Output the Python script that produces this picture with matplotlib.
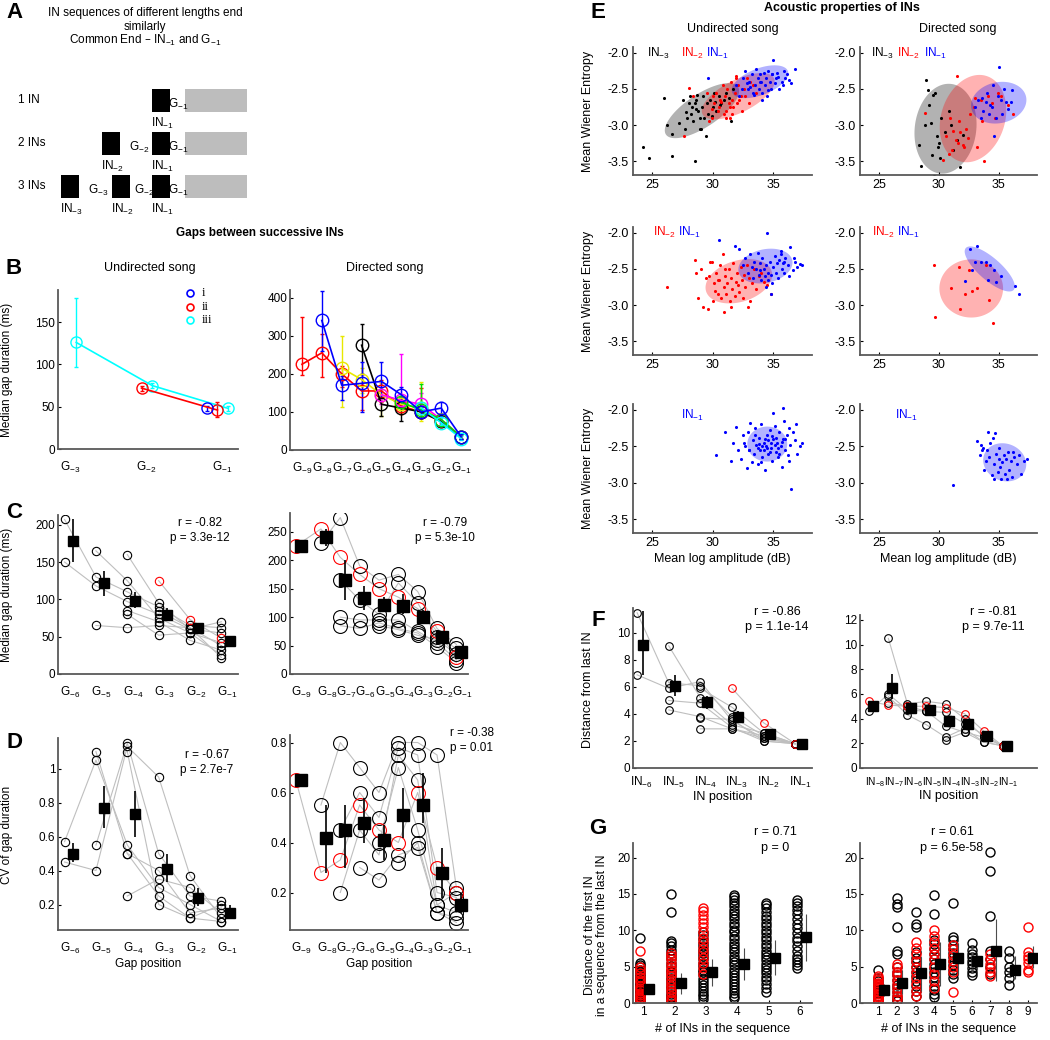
import numpy as np
import matplotlib.pyplot as plt
from matplotlib.patches import Rectangle

plt.rcParams['font.family'] = ['Liberation Sans', 'DejaVu Sans']
plt.rcParams['mathtext.default'] = 'regular'
nan = np.nan

# ---------------- data ----------------
# A: schematic, gaps between INs of each row (last gap first)
seq_labels = ['1 IN', '2 INs', '3 INs']
seq_gaps = [[], [32], [22, 33]]

# B: median gap duration (ms)
b_und_ticks = ['G$_{-3}$', 'G$_{-2}$', 'G$_{-1}$']
b_und_i = [nan, nan, 48]
b_und_i_lo = [nan, nan, 45]
b_und_i_hi = [nan, nan, 51]
b_und_ii = [nan, 72, 46]
b_und_ii_lo = [nan, 69, 38]
b_und_ii_hi = [nan, 75, 55]
b_und_iii = [126, 75, 48]
b_und_iii_lo = [97, 72, 45]
b_und_iii_hi = [178, 78, 51]

dir_ticks = ['G$_{-9}$', 'G$_{-8}$', 'G$_{-7}$', 'G$_{-6}$', 'G$_{-5}$', 'G$_{-4}$', 'G$_{-3}$', 'G$_{-2}$', 'G$_{-1}$']
b_dir_red = [225, 255, 200, 155, 155, 115, 100, 75, 35]
b_dir_red_lo = [197, 192, 165, 105, 125, 95, 85, 62, 28]
b_dir_red_hi = [348, 305, 220, 200, 185, 140, 162, 90, 42]
b_dir_blue = [nan, 340, 170, 175, 180, 145, 100, 110, 35]
b_dir_blue_lo = [nan, 260, 130, 100, 140, 115, 85, 90, 28]
b_dir_blue_hi = [nan, 418, 195, 230, 230, 165, 115, 125, 42]
b_dir_yellow = [nan, nan, 215, 185, 145, 120, 110, 80, 35]
b_dir_yellow_lo = [nan, nan, 112, 150, 90, 95, 75, 65, 28]
b_dir_yellow_hi = [nan, nan, 300, 215, 175, 140, 178, 95, 42]
b_dir_black = [nan, nan, nan, 275, 120, 110, 100, 75, 35]
b_dir_black_lo = [nan, nan, nan, 200, 90, 75, 85, 62, 28]
b_dir_black_hi = [nan, nan, nan, 330, 140, 130, 115, 88, 42]
b_dir_magenta = [nan, nan, nan, nan, 145, 130, 120, 80, 35]
b_dir_magenta_lo = [nan, nan, nan, nan, 120, 110, 100, 70, 28]
b_dir_magenta_hi = [nan, nan, nan, nan, 170, 252, 150, 95, 42]
b_dir_green = [nan, nan, nan, nan, nan, 125, 105, 80, 35]
b_dir_green_lo = [nan, nan, nan, nan, nan, 110, 90, 65, 28]
b_dir_green_hi = [nan, nan, nan, nan, nan, 140, 172, 95, 42]
b_dir_cyan = [nan, nan, nan, nan, nan, nan, 110, 72, 30]
b_dir_cyan_lo = [nan, nan, nan, nan, nan, nan, 100, 65, 25]
b_dir_cyan_hi = [nan, nan, nan, nan, nan, nan, 125, 85, 38]

# C: median gap duration per bird (undirected G-6..G-1, directed G-9..G-1)
und_ticks = ['G$_{-6}$', 'G$_{-5}$', 'G$_{-4}$', 'G$_{-3}$', 'G$_{-2}$', 'G$_{-1}$']
c_und_birds = [
    [207, 130, 110, 90, 65, 62],
    [150, 118, 97, 80, 60, 55],
    [nan, 165, 125, 75, 55, 42],
    [nan, 65, 62, 65, 62, 38],
    [nan, nan, 160, 95, 60, 70],
    [nan, nan, 85, 70, 45, 32],
    [nan, nan, 80, 52, 55, 25],
    [nan, nan, nan, 85, 62, 22],
]
c_und_red = [nan, nan, nan, 125, 73, 48]
c_und_mean = [178, 122, 98, 79, 61, 44]
c_und_lo = [150, 105, 88, 72, 55, 38]
c_und_hi = [208, 138, 110, 88, 68, 50]

c_dir_birds = [
    [nan, 230, 275, 190, 165, 175, 145, 80, 52],
    [nan, nan, 165, 130, 105, 160, 125, 65, 45],
    [nan, nan, 100, 95, 95, 95, 75, 55, 25],
    [nan, nan, 85, 80, 90, 80, 72, 48, 20],
    [nan, nan, nan, nan, 85, 78, 68, 60, 35],
]
c_dir_red = [225, 255, 205, 175, 150, 135, 115, 75, 30]
c_dir_mean = [225, 240, 165, 133, 122, 120, 100, 65, 38]
c_dir_lo = [225, 225, 130, 112, 110, 105, 90, 58, 32]
c_dir_hi = [225, 255, 200, 155, 135, 140, 112, 72, 45]

# D: CV of gap duration per bird
d_und_birds = [
    [0.57, 1.05, 0.55, 0.30, 0.20, 0.10],
    [0.45, 0.40, 1.13, 0.95, 0.37, 0.12],
    [nan, 1.10, 0.50, 0.40, 0.15, 0.18],
    [nan, 0.55, 1.15, 0.50, 0.25, 0.22],
    [nan, nan, 0.25, 0.35, 0.30, 0.15],
    [nan, nan, 1.10, 0.20, 0.12, 0.10],
    [nan, nan, 0.50, 0.25, 0.12, 0.20],
]
d_und_red = [nan] * 6
d_und_mean = [0.50, 0.77, 0.73, 0.41, 0.24, 0.15]
d_und_lo = [0.45, 0.65, 0.60, 0.33, 0.19, 0.12]
d_und_hi = [0.56, 0.90, 0.87, 0.50, 0.30, 0.20]

d_dir_birds = [
    [nan, 0.55, 0.80, 0.70, 0.60, 0.80, 0.80, 0.75, 0.22],
    [nan, nan, 0.45, 0.60, 0.50, 0.78, 0.75, 0.20, 0.18],
    [nan, nan, 0.20, 0.45, 0.35, 0.75, 0.65, 0.15, 0.12],
    [nan, nan, nan, 0.30, 0.25, 0.35, 0.38, 0.12, 0.08],
    [nan, nan, nan, nan, 0.40, 0.70, 0.45, 0.15, 0.20],
    [nan, nan, nan, nan, nan, 0.32, 0.40, 0.12, 0.10],
]
d_dir_red = [0.65, 0.28, 0.33, 0.55, 0.45, 0.40, 0.60, 0.30, 0.20]
d_dir_mean = [0.65, 0.42, 0.45, 0.48, 0.41, 0.51, 0.55, 0.28, 0.15]
d_dir_lo = [0.65, 0.28, 0.30, 0.40, 0.33, 0.42, 0.48, 0.18, 0.12]
d_dir_hi = [0.65, 0.55, 0.55, 0.58, 0.47, 0.62, 0.68, 0.38, 0.20]

# E: (mean log amplitude dB, mean Wiener entropy) per IN
e_und3_in3 = [(24.2, -3.30), (24.7, -3.45), (26.0, -2.63), (26.2, -3.00), (26.6, -3.12), (26.6, -3.43),
              (27.2, -2.97), (27.5, -2.65), (27.7, -3.05), (27.9, -2.90), (28.0, -2.70), (28.1, -2.60),
              (28.2, -2.85), (28.3, -2.75), (28.4, -2.95), (28.5, -2.70), (28.5, -3.50), (28.6, -2.65),
              (28.7, -2.58), (28.8, -2.80), (28.9, -2.90), (29.0, -3.05), (29.1, -2.75), (29.2, -2.60),
              (29.3, -2.90), (29.5, -2.70), (29.6, -2.85), (29.8, -2.65), (30.0, -2.75), (30.1, -2.55),
              (30.3, -2.80), (30.5, -2.60), (30.7, -2.70), (30.9, -2.65), (31.1, -2.55), (31.3, -2.62),
              (31.5, -2.95), (31.7, -2.50), (28.6, -2.78), (29.4, -3.15), (30.2, -2.68), (29.9, -2.88),
              (28.9, -3.05), (27.8, -2.82), (30.6, -2.72)]
e_und3_in2 = [(27.6, -3.15), (28.0, -2.49), (28.4, -2.60), (29.5, -2.55), (29.9, -2.90), (30.1, -2.70),
              (30.3, -2.55), (30.5, -2.75), (30.6, -2.65), (30.8, -2.45), (30.9, -2.85), (31.0, -2.60),
              (31.1, -2.80), (31.2, -2.50), (31.3, -2.70), (31.4, -2.90), (31.5, -2.40), (31.6, -2.65),
              (31.7, -2.75), (31.8, -2.55), (31.9, -2.35), (32.0, -2.70), (32.1, -2.45), (32.3, -2.60),
              (32.4, -2.80), (32.6, -2.50), (32.8, -2.35), (33.0, -2.70), (33.3, -2.45), (33.6, -2.55),
              (29.7, -2.95), (30.0, -2.60), (31.4, -2.75), (31.9, -2.32), (32.2, -2.65), (30.4, -2.80),
              (32.7, -2.60), (31.1, -2.90), (33.1, -2.40), (30.7, -2.68), (29.9, -2.78), (31.6, -2.85)]
e_und3_in1 = [(29.6, -2.35), (31.9, -2.45), (32.2, -2.60), (32.5, -2.35), (32.7, -2.25), (32.9, -2.50),
              (33.0, -2.40), (33.2, -2.30), (33.3, -2.55), (33.5, -2.45), (33.6, -2.22), (33.7, -2.35),
              (33.8, -2.50), (33.9, -2.30), (34.0, -2.40), (34.1, -2.55), (34.2, -2.28), (34.3, -2.45),
              (34.4, -2.35), (34.5, -2.60), (34.6, -2.25), (34.7, -2.40), (34.8, -2.50), (34.9, -2.30),
              (35.0, -2.10), (35.1, -2.42), (35.2, -2.35), (35.3, -2.28), (35.5, -2.50), (35.7, -2.40),
              (35.9, -2.25), (36.1, -2.30), (36.3, -2.38), (36.5, -2.42), (36.8, -2.22), (33.1, -2.48),
              (32.8, -2.42), (34.6, -2.52), (35.4, -2.33), (34.1, -2.65), (33.4, -2.58), (36.0, -2.35),
              (32.4, -2.50), (35.8, -2.45), (34.9, -2.30), (33.9, -2.40)]
e_dir3_in3 = [(28.3, -3.28), (28.5, -3.56), (28.9, -2.38), (29.1, -2.52), (29.3, -2.97), (29.4, -3.42),
              (29.5, -2.58), (29.6, -3.70), (29.7, -2.55), (29.8, -3.15), (30.0, -3.25), (30.2, -2.90),
              (30.5, -3.10), (30.8, -2.80), (31.2, -3.35), (31.5, -3.20), (31.8, -3.58), (32.0, -3.13),
              (29.2, -2.72), (28.8, -3.00), (30.1, -3.45), (31.0, -3.00), (29.9, -3.30)]
e_dir3_in2 = [(28.8, -2.83), (30.3, -3.48), (30.6, -3.15), (30.9, -2.90), (31.1, -3.35), (31.2, -3.08),
              (31.4, -3.20), (31.6, -3.25), (31.7, -2.95), (31.8, -3.10), (32.0, -3.28), (32.1, -3.30),
              (32.3, -3.05), (32.6, -2.85), (32.9, -2.75), (33.2, -3.30), (33.5, -2.65), (33.8, -3.50),
              (34.1, -2.60), (34.4, -2.70), (34.7, -2.90), (35.2, -2.60), (35.8, -2.72), (36.2, -2.85),
              (31.5, -2.32), (32.4, -3.18), (33.0, -2.62), (30.8, -3.40), (33.6, -2.95), (34.9, -2.55)]
e_dir3_in1 = [(33.0, -2.75), (33.3, -2.65), (33.5, -2.90), (33.7, -2.80), (33.9, -2.68), (34.0, -2.55),
              (34.2, -2.85), (34.4, -2.75), (34.5, -2.45), (34.6, -3.15), (34.8, -2.90), (35.0, -2.20),
              (35.2, -2.65), (35.4, -2.50), (35.6, -2.68), (35.8, -2.78), (36.1, -2.52), (33.6, -2.62),
              (34.3, -2.72), (35.3, -2.85), (34.9, -2.60), (36.0, -2.68)]
e_und2_in2 = [(26.2, -2.75), (28.5, -2.38), (28.6, -2.55), (28.8, -2.90), (29.0, -2.50), (29.2, -3.02),
              (29.4, -2.62), (29.6, -3.05), (29.7, -2.60), (29.8, -2.40), (30.0, -2.95), (30.1, -2.70),
              (30.2, -2.80), (30.3, -2.55), (30.4, -2.85), (30.5, -2.65), (30.6, -2.45), (30.7, -2.90),
              (30.8, -2.30), (30.9, -2.75), (31.0, -2.60), (31.1, -2.85), (31.2, -2.70), (31.3, -2.50),
              (31.4, -2.95), (31.5, -2.62), (31.6, -2.78), (31.7, -2.42), (31.8, -2.88), (31.9, -2.68),
              (32.0, -2.55), (32.1, -2.72), (32.2, -2.82), (32.3, -2.48), (32.4, -2.65), (32.5, -2.90),
              (32.6, -2.58), (32.7, -2.75), (32.8, -2.45), (33.0, -2.62), (33.2, -2.70), (33.4, -2.50),
              (33.6, -2.78), (33.8, -2.60), (34.0, -2.55), (34.2, -2.68), (34.5, -2.72), (34.8, -2.85),
              (30.9, -3.10), (31.5, -3.02), (32.9, -3.02), (29.9, -2.40), (30.4, -2.65), (33.1, -2.95),
              (31.0, -2.50)]
e_und2_in1 = [(30.5, -2.10), (31.8, -2.18), (32.2, -2.22), (32.5, -2.45), (32.7, -2.35), (32.9, -2.55),
              (33.1, -2.30), (33.3, -2.62), (33.4, -2.40), (33.6, -2.50), (33.7, -2.28), (33.8, -2.58),
              (33.9, -2.42), (34.0, -2.65), (34.1, -2.35), (34.2, -2.50), (34.3, -2.60), (34.4, -2.45),
              (34.5, -2.00), (34.6, -2.55), (34.7, -2.40), (34.8, -2.85), (34.9, -2.70), (35.0, -2.48),
              (35.1, -2.32), (35.2, -2.55), (35.3, -2.42), (35.4, -2.62), (35.5, -2.38), (35.6, -2.25),
              (35.7, -2.50), (35.8, -2.42), (35.9, -2.55), (36.0, -2.35), (36.2, -2.45), (36.4, -2.20),
              (36.6, -2.52), (36.8, -2.40), (37.0, -2.48), (37.2, -2.43), (37.4, -2.45), (34.4, -2.75),
              (33.2, -2.48), (35.6, -2.30), (36.3, -2.60), (34.8, -2.58), (33.9, -2.52), (35.9, -2.40),
              (34.6, -2.65), (36.7, -2.35)]
e_dir2_in2 = [(29.6, -2.45), (29.7, -3.16), (31.0, -2.77), (31.7, -2.48), (31.8, -3.05), (32.2, -2.85),
              (32.5, -2.52), (32.8, -2.80), (33.2, -2.77), (33.9, -2.45), (34.2, -2.93), (34.5, -3.25)]
e_dir2_in1 = [(32.2, -2.67), (32.6, -2.23), (32.8, -2.52), (33.2, -2.18), (33.5, -2.40), (33.9, -2.40),
              (34.1, -2.65), (34.3, -2.45), (34.6, -2.52), (34.8, -2.68), (35.2, -2.60), (36.4, -2.73),
              (36.7, -2.84), (33.0, -2.40)]
e_und1_in1 = [(30.3, -2.62), (31.0, -2.31), (31.5, -2.70), (31.7, -2.45), (31.9, -2.23), (32.1, -2.55),
              (32.3, -2.68), (32.5, -2.35), (32.7, -2.50), (32.8, -2.80), (32.9, -2.30), (33.0, -2.55),
              (33.1, -2.18), (33.2, -2.72), (33.3, -2.42), (33.4, -2.60), (33.5, -2.25), (33.6, -2.48),
              (33.7, -2.75), (33.8, -2.38), (33.9, -2.55), (34.0, -2.20), (34.1, -2.65), (34.2, -2.45),
              (34.3, -2.82), (34.4, -2.50), (34.5, -2.35), (34.6, -2.60), (34.7, -2.28), (34.8, -2.52),
              (34.9, -2.70), (35.0, -2.40), (35.1, -2.22), (35.2, -2.58), (35.3, -2.45), (35.4, -2.65),
              (35.5, -2.30), (35.6, -2.50), (35.7, -2.78), (35.8, -2.40), (35.9, -2.15), (36.0, -2.55),
              (36.1, -2.35), (36.2, -2.62), (36.3, -2.25), (36.4, -2.48), (36.5, -3.08), (36.6, -2.30),
              (36.8, -2.42), (37.0, -2.60), (37.2, -2.50), (37.4, -2.45), (33.5, -2.35), (34.2, -2.55),
              (34.8, -2.45), (35.5, -2.60), (36.0, -2.40), (33.0, -2.55), (34.5, -2.52), (35.8, -1.98),
              (36.3, -2.70), (33.8, -2.47), (35.2, -2.38), (34.0, -2.72), (36.9, -2.20), (32.6, -2.45),
              (35.0, -2.05), (34.7, -2.58), (34.3, -2.40), (35.1, -2.48), (34.6, -2.42), (33.7, -2.52),
              (35.4, -2.53), (34.9, -2.36), (35.7, -2.44), (34.1, -2.50)]
e_dir1_in1 = [(31.2, -3.03), (33.2, -2.43), (33.4, -2.62), (33.5, -2.48), (33.7, -2.52), (33.8, -2.82),
              (33.9, -2.70), (34.0, -2.55), (34.2, -2.65), (34.3, -2.45), (34.4, -2.90), (34.5, -2.38),
              (34.6, -2.75), (34.7, -2.32), (34.8, -2.60), (34.9, -2.85), (35.0, -2.68), (35.1, -2.78),
              (35.2, -2.95), (35.3, -2.72), (35.4, -2.62), (35.5, -2.88), (35.6, -2.68), (35.7, -2.95),
              (35.8, -2.58), (35.9, -2.82), (36.0, -2.70), (36.1, -2.92), (36.3, -2.65), (36.5, -2.75),
              (36.7, -2.62), (36.9, -2.88), (37.1, -2.70), (37.4, -2.67), (34.1, -2.30), (35.0, -2.52),
              (34.6, -2.95), (36.2, -2.58), (33.6, -2.55)]
# ellipses: centre and two half-axis vectors (dB, entropy)
e_ell_und3 = [(29.1, -2.80, 2.98, 0.33, -0.75, 0.19), (32.1, -2.60, 2.95, 0.25, -0.62, 0.2),
              (33.9, -2.40, 2.30, 0.15, -0.42, 0.17)]
e_ell_dir3 = [(30.55, -3.05, 0.43, 0.62, 2.56, -0.04), (32.85, -2.91, 0.85, 0.60, 2.65, -0.07),
              (35.0, -2.69, 2.30, 0.07, -0.26, 0.28)]
e_ell_und2 = [(32.15, -2.67, 2.73, 0.125, -0.36, 0.28), (34.35, -2.46, 2.23, 0.07, -0.2, 0.23)]
e_ell_dir2 = [(32.7, -2.77, 2.65, -0.04, 0.26, 0.40), (34.25, -2.50, 2.0, -0.29, 0.63, 0.114)]
e_ell_und1 = [(34.5, -2.47, 1.65, 0.0, 0.0, 0.24)]
e_ell_dir1 = [(35.5, -2.72, 1.80, -0.03, 0.0, 0.26)]

# F: distance from last IN per bird
f_und_ticks = ['IN$_{-6}$', 'IN$_{-5}$', 'IN$_{-4}$', 'IN$_{-3}$', 'IN$_{-2}$', 'IN$_{-1}$']
f_und_birds = [
    [11.5, 6.3, 6.1, 3.8, 2.4, 1.8],
    [6.9, 5.9, 6.4, 3.5, 2.2, 1.8],
    [nan, 9.05, 5.2, 3.2, 2.6, 1.8],
    [nan, 5.0, 4.8, 3.0, 2.0, 1.8],
    [nan, 4.3, 3.8, 2.9, 2.2, 1.8],
    [nan, nan, 3.7, 3.6, 2.0, 1.8],
    [nan, nan, 2.9, 2.9, 2.4, 1.8],
    [nan, nan, 5.9, 4.5, 2.6, 1.8],
]
f_und_red = [nan, nan, nan, 5.9, 3.35, 1.8]
f_und_mean = [9.1, 6.1, 4.9, 3.8, 2.5, 1.8]
f_und_lo = [6.9, 5.3, 4.4, 3.3, 2.2, 1.7]
f_und_hi = [11.6, 6.9, 5.3, 4.2, 2.8, 1.9]
f_dir_ticks = ['IN$_{-8}$', 'IN$_{-7}$', 'IN$_{-6}$', 'IN$_{-5}$', 'IN$_{-4}$', 'IN$_{-3}$', 'IN$_{-2}$', 'IN$_{-1}$']
f_dir_birds = [
    [4.6, 6.0, 4.7, 4.6, 4.5, 3.6, 2.7, 1.8],
    [nan, 10.5, 5.2, 5.4, 5.2, 4.0, 2.5, 1.8],
    [nan, 5.8, 4.3, 3.5, 2.5, 3.2, 2.1, 1.8],
    [nan, 5.3, 5.0, 4.6, 3.4, 2.9, 2.5, 1.8],
    [nan, nan, nan, nan, 2.3, 2.9, 2.1, 1.8],
]
f_dir_red = [5.4, 5.1, 5.0, 5.0, 4.9, 4.4, 3.0, 1.8]
f_dir_mean = [5.0, 6.5, 4.9, 4.7, 3.8, 3.6, 2.6, 1.8]
f_dir_lo = [4.6, 5.6, 4.6, 4.4, 3.4, 3.3, 2.3, 1.7]
f_dir_hi = [5.4, 7.6, 5.2, 5.0, 4.2, 3.9, 2.9, 1.9]

# G: distance of the first IN from the last IN, by number of INs
g_und_black = [
    [0.3, 0.4, 0.6, 0.9, 1.0, 1.2, 1.5, 1.6, 1.9, 2.2, 2.3, 2.6, 2.8, 3.0, 3.3, 3.4, 3.7, 4.0, 4.2, 4.5, 4.9, 5.2, 5.5, 9.0],
    [0.3, 0.5, 0.8, 1.0, 1.3, 1.7, 2.0, 2.4, 2.7, 3.1, 3.5, 3.8, 4.2, 4.6, 5.1, 5.5, 6.0, 6.4, 6.9, 7.3, 7.8, 8.2, 8.5, 12.5, 15.0],
    [0.6, 0.9, 1.3, 1.6, 2.0, 2.5, 2.9, 3.3, 3.8, 4.2, 4.6, 5.1, 5.5, 6.0, 6.4, 6.9, 7.3, 7.8, 8.3, 8.8, 9.3, 9.8],
    [0.7, 1.0, 1.4, 1.8, 2.2, 2.6, 3.0, 3.4, 3.9, 4.3, 4.7, 5.2, 5.6, 6.1, 6.5, 7.0, 7.4, 7.9, 8.3, 8.8, 9.2, 9.7,
     10.1, 10.6, 11.0, 11.5, 11.9, 12.4, 12.8, 13.3, 13.7, 14.2, 14.6, 14.9],
    [1.5, 2.0, 2.6, 3.1, 3.6, 4.1, 4.5, 5.0, 5.4, 5.9, 6.3, 6.8, 7.2, 7.7, 8.1, 8.6, 9.1, 9.6, 10.1, 10.6, 11.0,
     11.5, 12.0, 12.5, 13.0, 13.5, 13.8],
    [4.8, 5.2, 5.6, 6.0, 6.5, 7.2, 7.8, 8.5, 9.0, 9.6, 10.3, 10.9, 11.5, 12.2, 12.8, 13.3, 13.7, 14.1],
]
g_und_red = [
    [0.3, 0.5, 0.8, 1.1, 1.4, 1.8, 2.0, 2.4, 2.9, 3.2, 3.6, 4.1, 4.6, 5.0, 7.1],
    [0.3, 0.6, 1.0, 1.5, 1.9, 2.3, 2.8, 3.2, 3.7, 4.1, 4.6, 5.0, 5.5, 6.0, 6.5, 6.9],
    [4.0, 4.8, 5.5, 6.2, 7.0, 7.6, 8.4, 9.0, 9.8, 10.4, 11.0, 11.6, 12.1, 12.6, 13.0],
    [], [], [],
]
g_und_mean = [1.9, 2.7, 4.2, 5.4, 6.2, 9.1]
g_und_lo = [1.3, 1.2, 2.3, 3.2, 3.8, 5.8]
g_und_hi = [2.5, 4.1, 6.0, 7.6, 8.6, 12.2]
g_dir_black = [
    [0.3, 0.6, 1.0, 1.4, 1.8, 2.2, 2.6, 3.0, 3.5, 4.5],
    [0.3, 0.6, 1.0, 1.5, 2.0, 2.5, 3.2, 3.8, 4.3, 5.0, 6.8, 7.1, 10.5, 13.2, 13.6, 14.5],
    [1.0, 1.6, 2.3, 3.0, 3.7, 4.3, 5.0, 5.6, 6.2, 7.0, 10.5, 10.8, 12.5],
    [0.8, 1.3, 1.8, 2.4, 3.0, 3.6, 4.2, 4.8, 5.4, 6.0, 6.7, 7.4, 8.1, 8.6, 12.2, 14.8],
    [3.5, 4.0, 4.6, 5.2, 5.8, 6.3, 6.9, 7.4, 8.0, 8.6, 9.1, 13.7],
    [3.8, 4.3, 4.8, 5.3, 5.8, 6.3, 6.8, 7.3, 8.3],
    [4.0, 5.0, 6.0, 7.2, 12.0, 18.2, 20.7],
    [2.5, 3.5, 4.2, 5.0, 6.2, 7.2],
    [],
]
g_dir_red = [
    [0.2, 0.4, 0.6, 0.8, 1.0, 1.3, 1.6, 1.9, 2.2, 2.5, 2.8, 3.1, 3.4, 3.7],
    [0.5, 1.0, 1.5, 2.0, 2.6, 3.2, 3.8, 4.3, 4.9, 5.4],
    [1.0, 1.7, 2.6, 3.4, 4.2, 5.0, 5.8, 6.7, 7.5, 8.4],
    [2.0, 3.0, 4.0, 5.0, 6.0, 6.8, 7.6, 8.4, 9.2, 10.0],
    [1.5, 4.2, 5.0, 5.8, 6.6, 7.4, 8.0],
    [],
    [3.7, 4.2, 4.8, 5.4, 6.0, 6.8],
    [],
    [4.3, 4.6, 5.5, 6.0, 6.5, 7.0, 10.5],
]
g_dir_mean = [1.8, 2.8, 4.1, 5.4, 6.2, 5.8, 7.2, 4.6, 6.2]
g_dir_lo = [1.0, 1.2, 1.7, 2.4, 4.0, 4.5, 3.0, 3.3, 4.8]
g_dir_hi = [2.6, 4.5, 6.3, 8.4, 8.2, 6.8, 11.5, 6.5, 7.8]

# ---------------- figure ----------------
W, H = 1050, 1040
fig = plt.figure(figsize=(W / 100, H / 100), dpi=100)


def px_axes(x0, y0, x1, y1):
    return fig.add_axes([x0 / W, 1 - y1 / H, (x1 - x0) / W, (y1 - y0) / H])


def ftext(x, y, s, **kw):
    kw.setdefault('ha', 'center')
    kw.setdefault('va', 'center')
    kw.setdefault('fontsize', 8.5)
    fig.text(x / W, 1 - y / H, s, **kw)


def style(ax):
    for s in ['top', 'right']:
        ax.spines[s].set_visible(False)
    for s in ['left', 'bottom']:
        ax.spines[s].set_color('0.35')
        ax.spines[s].set_linewidth(1.3)
    ax.tick_params(direction='in', length=2.5, width=0.8, labelsize=8.5, pad=2)


def bird_panel(ax, pos, birds, red, mean, lo, hi, c_off, s_off, c_ms, s_ms):
    pos = np.asarray(pos, float)
    series = [(b, 'k') for b in birds] + [(red, 'r')]
    for vals, col in series:
        ax.plot(pos + c_off, np.array(vals, float), '-', color='0.75', lw=0.8, zorder=1)
    for vals, col in series:
        ax.plot(pos + c_off, np.array(vals, float), 'o', mfc='none', mec=col, ms=c_ms, mew=0.8, zorder=2)
    m = np.array(mean, float)
    ax.errorbar(pos + s_off, m, yerr=[m - np.array(lo), np.array(hi) - m], fmt='s', color='k',
                ms=s_ms, elinewidth=1.2, capsize=0, zorder=3)


def count_panel(ax, pos, black, red, mean, lo, hi, c_off, s_off):
    for p, col in zip(pos, black):
        ax.plot(np.full(len(col), p + c_off), col, 'o', mfc='none', mec='k', ms=6.5, mew=1.0, zorder=2)
    for p, col in zip(pos, red):
        ax.plot(np.full(len(col), p + c_off), col, 'o', mfc='none', mec='r', ms=6.5, mew=1.0, zorder=2)
    m = np.array(mean, float)
    ax.errorbar(np.asarray(pos) + s_off, m, yerr=[m - np.array(lo), np.array(hi) - m], fmt='s', color='k',
                ms=7.5, elinewidth=0.8, ecolor='0.3', capsize=0, zorder=3)


# ---- A: schematic
ax = px_axes(0, 0, 260, 218)
ax.set_xlim(0, 260)
ax.set_ylim(218, 0)
ax.axis('off')
for r, (lab, gaps) in enumerate(zip(seq_labels, seq_gaps)):
    top = 89 + 43 * r
    ax.text(18, top + 11, lab, fontsize=8.5, va='center')
    ax.add_patch(Rectangle((185, top), 62, 23, color='#bdbdbd', lw=0))
    x = 152
    ax.add_patch(Rectangle((x, top), 18, 23, color='k', lw=0))
    ax.text(x + 10, top + 34, 'IN$_{-1}$', fontsize=8.5, ha='center', va='center')
    ax.text(x + 26, top + 15, 'G$_{-1}$', fontsize=8.5, ha='center', va='center')
    for k, g in enumerate(gaps, start=2):
        x = x - g - 18
        ax.add_patch(Rectangle((x, top), 18, 23, color='k', lw=0))
        ax.text(x + 10, top + 34, 'IN$_{-%d}$' % k, fontsize=8.5, ha='center', va='center')
        ax.text(x + 18 + g / 2 + 3, top + 15, 'G$_{-%d}$' % k, fontsize=8.5, ha='center', va='center')
ftext(145, 13, 'IN sequences of different lengths end', fontsize=8.5)
ftext(145, 27, 'similarly', fontsize=8.5)
ftext(145, 40, 'Common End \u2013 IN$_{-1}$ and G$_{-1}$', fontsize=8.5)

# ---- B
ftext(260, 233, 'Gaps between successive INs', fontweight='bold', fontsize=8.5)
ax = px_axes(58, 290, 238, 449)
style(ax)
und3 = np.arange(1, 4)
for y, lo, hi, col, off in [(b_und_iii, b_und_iii_lo, b_und_iii_hi, 'cyan', 0.08),
                            (b_und_ii, b_und_ii_lo, b_und_ii_hi, 'red', -0.06),
                            (b_und_i, b_und_i_lo, b_und_i_hi, 'blue', -0.2)]:
    y = np.array(y, float)
    ax.errorbar(und3 + off, y, yerr=[y - np.array(lo), np.array(hi) - y], fmt='-o', color=col,
                mfc='none', ms=8, mew=1.0, lw=1.2, elinewidth=1.0, capsize=1.5)
ax.set_xlim(0.84, 3.21)
ax.set_ylim(0, 188)
ax.set_yticks([0, 50, 100, 150])
ax.set_xticks(und3)
ax.set_xticklabels(b_und_ticks)
ax.tick_params(axis='x', length=0, pad=8)
for yy, lab, col in [(293, 'i', 'blue'), (307, 'ii', 'red'), (320, 'iii', 'cyan')]:
    ax.plot([(190 - 58) / 180], [1 - (yy - 290) / 159], 'o', mfc='none', mec=col, ms=5, mew=1.2,
            transform=ax.transAxes, clip_on=False)
    ftext(202, yy, lab, ha='left', family='Liberation Serif', fontsize=9)
ftext(150, 268, 'Undirected song', fontsize=9)
ftext(7, 370, 'Median gap duration (ms)', rotation=90)

ax = px_axes(290, 290, 470, 450)
style(ax)
dir9 = np.arange(1, 10)
for y, lo, hi, col in [(b_dir_red, b_dir_red_lo, b_dir_red_hi, 'red'),
                       (b_dir_yellow, b_dir_yellow_lo, b_dir_yellow_hi, '#e8e800'),
                       (b_dir_black, b_dir_black_lo, b_dir_black_hi, 'k'),
                       (b_dir_magenta, b_dir_magenta_lo, b_dir_magenta_hi, 'magenta'),
                       (b_dir_green, b_dir_green_lo, b_dir_green_hi, '#00dd00'),
                       (b_dir_cyan, b_dir_cyan_lo, b_dir_cyan_hi, 'cyan'),
                       (b_dir_blue, b_dir_blue_lo, b_dir_blue_hi, 'blue')]:
    y = np.array(y, float)
    ax.errorbar(dir9, y, yerr=[y - np.array(lo), np.array(hi) - y], fmt='-o', color=col,
                mfc='none', ms=9, mew=1.0, lw=1.2, elinewidth=1.0, capsize=1.5)
ax.set_xlim(0.4, 9.45)
ax.set_ylim(0, 420)
ax.set_yticks([0, 100, 200, 300, 400])
ax.set_xticks(dir9)
ax.set_xticklabels(dir_ticks)
ax.tick_params(axis='x', length=0, pad=8)
ftext(385, 268, 'Directed song', fontsize=9)

# ---- C
dir_pos = [0.7, 2, 3, 4, 5, 6, 7, 8, 9]
und6 = np.arange(1, 7)
ax = px_axes(58, 515, 238, 674)
style(ax)
bird_panel(ax, und6, c_und_birds, c_und_red, c_und_mean, c_und_lo, c_und_hi, -0.18, 0.08, 6, 7.5)
ax.set_xlim(0.61, 6.35)
ax.set_ylim(0, 213)
ax.set_yticks([0, 50, 100, 150, 200])
ax.set_xticks(und6)
ax.set_xticklabels(und_ticks)
ax.tick_params(axis='x', length=0, pad=8)
ftext(200, 523, 'r = -0.82')
ftext(200, 538, 'p = 3.3e-12')
ftext(7, 595, 'Median gap duration (ms)', rotation=90)

ax = px_axes(290, 513, 468, 674)
style(ax)
bird_panel(ax, dir_pos, c_dir_birds, c_dir_red, c_dir_mean, c_dir_lo, c_dir_hi, -0.3, -0.05, 10, 9)
ax.set_xlim(0.1, 9.3)
ax.set_ylim(0, 283)
ax.set_yticks([0, 50, 100, 150, 200, 250])
ax.set_xticks(dir_pos)
ax.set_xticklabels(dir_ticks)
ax.tick_params(axis='x', length=0, pad=8)
ftext(445, 523, 'r = -0.79')
ftext(445, 538, 'p = 5.3e-10')

# ---- D
ax = px_axes(58, 738, 238, 930)
style(ax)
bird_panel(ax, und6, d_und_birds, d_und_red, d_und_mean, d_und_lo, d_und_hi, -0.18, 0.08, 6, 7.5)
ax.set_xlim(0.61, 6.35)
ax.set_ylim(0.05, 1.18)
ax.set_yticks([0.2, 0.4, 0.6, 0.8, 1.0])
ax.set_yticklabels(['0.2', '0.4', '0.6', '0.8', '1'])
ax.set_xticks(und6)
ax.set_xticklabels(und_ticks)
ax.tick_params(axis='x', length=0, pad=8)
ax.set_xlabel('Gap position', fontsize=8.5, labelpad=1)
ftext(207, 755, 'r = -0.67')
ftext(207, 770, 'p = 2.7e-7')
ftext(7, 835, 'CV of gap duration', rotation=90)

ax = px_axes(290, 735, 468, 930)
style(ax)
bird_panel(ax, dir_pos, d_dir_birds, d_dir_red, d_dir_mean, d_dir_lo, d_dir_hi, -0.3, -0.05, 10, 9)
ax.set_xlim(0.1, 9.3)
ax.set_ylim(0.05, 0.83)
ax.set_yticks([0.2, 0.4, 0.6, 0.8])
ax.set_xticks(dir_pos)
ax.set_xticklabels(dir_ticks)
ax.tick_params(axis='x', length=0, pad=8)
ax.set_xlabel('Gap position', fontsize=8.5, labelpad=1)
ftext(472, 733, 'r = -0.38')
ftext(472, 748, 'p = 0.01')

# ---- E
ftext(842, 8, 'Acoustic properties of INs', fontweight='bold', fontsize=9)
ftext(733, 29, 'Undirected song', fontsize=9)
ftext(958, 29, 'Directed song', fontsize=9)
t = np.linspace(0, 2 * np.pi, 120)
e_rows = [
    (47, 175, [(e_und3_in3, e_ell_und3[0], 'k'), (e_und3_in2, e_ell_und3[1], 'r'), (e_und3_in1, e_ell_und3[2], 'b')],
     [(e_dir3_in3, e_ell_dir3[0], 'k'), (e_dir3_in2, e_ell_dir3[1], 'r'), (e_dir3_in1, e_ell_dir3[2], 'b')],
     [('IN$_{-3}$', 'k'), ('IN$_{-2}$', 'r'), ('IN$_{-1}$', 'b')],
     ([0.08, 0.27, 0.41], [0.06, 0.21, 0.36]), 0.95),
    (227, 355, [(e_und2_in2, e_ell_und2[0], 'r'), (e_und2_in1, e_ell_und2[1], 'b')],
     [(e_dir2_in2, e_ell_dir2[0], 'r'), (e_dir2_in1, e_ell_dir2[1], 'b')],
     [('IN$_{-2}$', 'r'), ('IN$_{-1}$', 'b')],
     ([0.11, 0.25], [0.07, 0.21]), 0.96),
    (404, 533, [(e_und1_in1, e_ell_und1[0], 'b')], [(e_dir1_in1, e_ell_dir1[0], 'b')],
     [('IN$_{-1}$', 'b')],
     ([0.27], [0.2]), 0.91),
]
for ri, (y0, y1, und, dirc, labs, lxs, ly) in enumerate(e_rows):
    for ci, (x0, x1, groups) in enumerate([(633, 812, und), (860, 1037, dirc)]):
        ax = px_axes(x0, y0, x1, y1)
        style(ax)
        for pts, (cx, cy, ux, uy, vx, vy), col in groups:
            ax.fill(cx + ux * np.cos(t) + vx * np.sin(t), cy + uy * np.cos(t) + vy * np.sin(t),
                    color=col, alpha=0.3, lw=0, zorder=1)
        for pts, ell, col in groups:
            p = np.array(pts)
            ax.scatter(p[:, 0], p[:, 1], s=5, color=col, lw=0, marker='o', zorder=2)
        ax.set_xlim(23.4, 38.2)
        ax.set_ylim(-3.69, -1.92)
        ax.set_xticks([25, 30, 35])
        ax.set_yticks([-2.0, -2.5, -3.0, -3.5])
        ax.set_yticklabels(['-2.0', '-2.5', '-3.0', '-3.5'])
        ax.tick_params(labelsize=9, pad=3)
        for (s, col), xx in zip(labs, lxs[ci]):
            ax.text(xx, ly, s, color=col, fontsize=8.5, transform=ax.transAxes, va='center')
        if ci == 0:
            ftext(588, (y0 + y1) / 2, 'Mean Wiener Entropy', rotation=90, fontsize=9)
        if ri == 2:
            ax.set_xlabel('Mean log amplitude (dB)', fontsize=9, labelpad=3)

# ---- F
ax = px_axes(633, 608, 812, 768)
style(ax)
bird_panel(ax, und6, f_und_birds, f_und_red, f_und_mean, f_und_lo, f_und_hi, -0.15, 0.05, 5.5, 7)
ax.set_xlim(0.72, 6.38)
ax.set_ylim(0, 11.85)
ax.set_yticks([0, 2, 4, 6, 8, 10])
ax.set_xticks(und6)
ax.set_xticklabels(f_und_ticks)
ax.tick_params(axis='x', length=0, pad=5)
ax.set_xlabel('IN position', fontsize=9, labelpad=1)
ftext(588, 690, 'Distance from last IN', rotation=90, fontsize=9)
ftext(777, 612, 'r = -0.86', fontsize=9)
ftext(777, 627, 'p = 1.1e-14', fontsize=9)

ax = px_axes(860, 615, 1037, 768)
style(ax)
dir8 = np.arange(1, 9)
bird_panel(ax, dir8, f_dir_birds, f_dir_red, f_dir_mean, f_dir_lo, f_dir_hi, -0.3, -0.1, 5.5, 7)
ax.set_xlim(0.21, 9.5)
ax.set_ylim(0, 12.4)
ax.set_yticks([0, 2, 4, 6, 8, 10, 12])
ax.set_xticks(dir8)
ax.set_xticklabels(f_dir_ticks, fontsize=7.3)
ax.tick_params(axis='x', length=0, pad=5)
ax.set_xlabel('IN position', fontsize=9, labelpad=1)
ftext(993, 612, 'r = -0.81', fontsize=9)
ftext(993, 627, 'p = 9.7e-11', fontsize=9)

# ---- G
ax = px_axes(633, 843, 812, 1003)
style(ax)
count_panel(ax, und6, g_und_black, g_und_red, g_und_mean, g_und_lo, g_und_hi, -0.1, 0.2)
ax.set_xlim(0.68, 6.38)
ax.set_ylim(0, 22)
ax.set_yticks([0, 5, 10, 15, 20])
ax.set_xticks(und6)
ax.set_xlabel('# of INs in the sequence', fontsize=9, labelpad=4)
ftext(775, 832, 'r = 0.71', fontsize=9)
ftext(775, 848, 'p = 0', fontsize=9)
ftext(596, 935, 'Distance of the first IN\nin a sequence from the last IN', rotation=90, fontsize=8.7,
      linespacing=1.05)

ax = px_axes(860, 843, 1037, 1003)
style(ax)
dir9b = np.arange(1, 10)
count_panel(ax, dir9b, g_dir_black, g_dir_red, g_dir_mean, g_dir_lo, g_dir_hi, 0.0, 0.3)
ax.set_xlim(0.03, 9.5)
ax.set_ylim(0, 22)
ax.set_yticks([0, 5, 10, 15, 20])
ax.set_xticks(dir9b)
ax.set_xlabel('# of INs in the sequence', fontsize=9, labelpad=4)
ftext(952, 832, 'r = 0.61', fontsize=9)
ftext(952, 848, 'p = 6.5e-58', fontsize=9)

# panel letters
for lab, x, y in [('A', 14, 12), ('B', 14, 268), ('C', 14, 513), ('D', 14, 742),
                  ('E', 598, 12), ('F', 598, 620), ('G', 598, 828)]:
    ftext(x, y, lab, fontsize=16, fontweight='bold')

fig.savefig('out.png', dpi=100)
